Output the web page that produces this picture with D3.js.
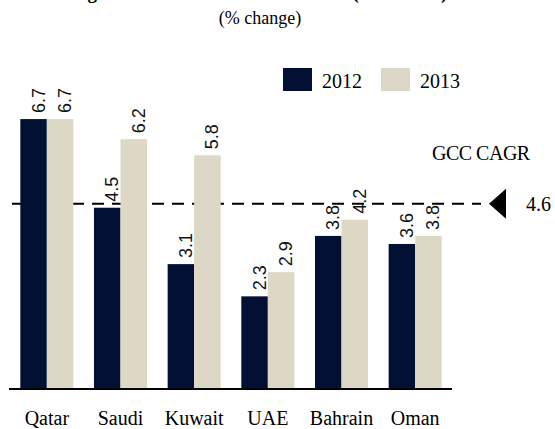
<!DOCTYPE html>
<html>
<head>
<meta charset="utf-8">
<script src="https://cdn.jsdelivr.net/npm/d3@7"></script>
<style>
  body { margin: 0; background: #fff; }
  svg { display: block; }
</style>
</head>
<body>
<script>
// chart data
let countries = ["Qatar", "Saudi", "Kuwait", "UAE", "Bahrain", "Oman"];
let years = ["2012", "2013"];
let growth2012 = [6.7, 4.5, 3.1, 2.3, 3.8, 3.6];
let growth2013 = [6.7, 6.2, 5.8, 2.9, 4.2, 3.8];
let gccCagr = 4.6;

let svgWidth = 555;
let svgHeight = 429;
let colors = {"2012": "#021034", "2013": "#ddd8c6"};
let serif = "'Liberation Serif', 'Times New Roman', serif";
let sans = "'Liberation Sans', Arial, sans-serif";

let svg = d3.select("body")
            .append("svg")
            .attr("width", svgWidth)
            .attr("height", svgHeight);

// title is clipped at the top edge in the source
svg.append("text")
   .attr("x", 259).attr("y", -1)
   .attr("text-anchor", "middle")
   .style("font-family", serif).style("font-weight", "bold").style("font-size", "19px")
   .text("Figure 1: GCC real GDP forecasts (2012-2013)");
svg.append("text")
   .attr("x", 260).attr("y", 24)
   .attr("text-anchor", "middle")
   .style("font-family", serif).style("font-size", "18px")
   .text("(% change)");

let rows = countries.map((c, i) => ({country: c, "2012": growth2012[i], "2013": growth2013[i]}));

/*
 *  S C A L E S
 */
let xscale = d3.scaleBand()
  .domain(countries)
  .range([10, 452])
  .paddingInner(0.28)
  .paddingOuter(0.14);
let sub = d3.scaleBand()
  .domain(years)
  .range([0, xscale.bandwidth()]);
let yscale = d3.scaleLinear()
  .domain([0, 7])
  .range([389, 107]);

// cagr reference line
svg.append("line")
   .attr("x1", 12).attr("x2", 481)
   .attr("y1", yscale(gccCagr)).attr("y2", yscale(gccCagr))
   .style("stroke", "#000").style("stroke-width", 2)
   .style("stroke-dasharray", "12,8");

let groups = svg.selectAll("g.country")
  .data(rows)
  .enter()
  .append("g")
    .attr("class", "country")
    .attr("transform", d => "translate(" + xscale(d.country) + ",0)");

groups.selectAll("rect")
  .data(d => years.map(y => ({year: y, value: d[y]})))
  .enter()
  .append("rect")
    .attr("x", d => sub(d.year))
    .attr("y", d => yscale(d.value))
    .attr("width", sub.bandwidth())
    .attr("height", d => yscale(0) - yscale(d.value))
    .style("fill", d => colors[d.year]);

groups.selectAll("text.val")
  .data(d => years.map(y => ({year: y, value: d[y]})))
  .enter()
  .append("text")
    .attr("class", "val")
    .attr("transform", d => "translate(" + (sub(d.year) + sub.bandwidth() * 0.5 + 11) + "," + (yscale(d.value) - 6) + ") rotate(-90)")
    .style("font-family", sans).style("font-size", "18px")
    .style("fill", "#111")
    .text(d => d.value.toFixed(1));

/*
 *  A X I S
 */
let hAxis = d3.axisBottom(xscale).tickSize(0).tickPadding(0);
let axisG = svg.append("g")
  .attr("transform", "translate(0," + yscale(0) + ")")
  .call(hAxis);
axisG.select(".domain")
  .attr("d", "M-1,0H442")
  .attr("transform", "translate(10,0)")
  .style("stroke", "#000").style("stroke-width", 2);
axisG.selectAll(".tick text")
  .attr("y", 36).attr("dy", 0)
  .style("font-family", serif).style("font-size", "20px")
  .style("fill", "#000");

// marker and annotation for cagr
svg.append("path")
   .attr("d", d3.line()([[489, yscale(gccCagr)], [506, yscale(gccCagr) - 15], [506, yscale(gccCagr) + 15]]) + "Z")
   .style("fill", "#000");
svg.append("text")
   .attr("x", 526).attr("y", yscale(gccCagr) + 7)
   .style("font-family", serif).style("font-size", "20px")
   .text(gccCagr.toFixed(1));
svg.append("text")
   .attr("x", 432).attr("y", 160)
   .style("font-family", serif).style("font-size", "20px")
   .style("letter-spacing", "-0.5px")
   .text("GCC CAGR");

// legend
let legend = svg.selectAll("g.legend")
  .data(years)
  .enter()
  .append("g")
    .attr("class", "legend")
    .attr("transform", (d, i) => "translate(" + (283 + i * 98) + ",68)");
legend.append("rect")
  .attr("width", 29).attr("height", 23)
  .style("fill", d => colors[d]);
legend.append("text")
  .attr("x", 39).attr("y", 20)
  .style("font-family", serif).style("font-size", "20px")
  .text(d => d);
</script>
</body>
</html>
